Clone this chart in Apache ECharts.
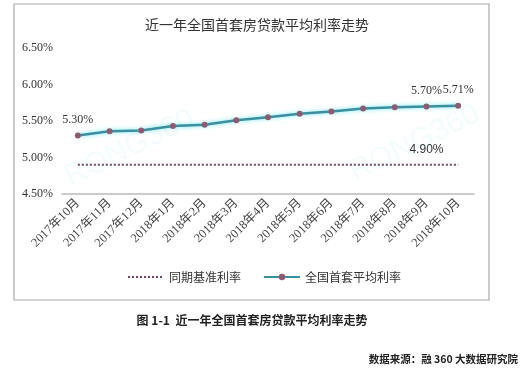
<!DOCTYPE html>
<html><head><meta charset="utf-8">
<script src="https://cdn.jsdelivr.net/npm/echarts@6/dist/echarts.min.js"></script>
<style>html,body{margin:0;padding:0;background:#fff}#c{width:529px;height:370px}</style>
</head><body><div id="c"></div>
<script>
var categories = ['2017年10月','2017年11月','2017年12月','2018年1月','2018年2月','2018年3月','2018年4月','2018年5月','2018年6月','2018年7月','2018年8月','2018年9月','2018年10月'];
var avgRate = [5.30,5.36,5.37,5.43,5.45,5.51,5.55,5.60,5.63,5.67,5.69,5.70,5.71];
var baseRate = [4.90,4.90,4.90,4.90,4.90,4.90,4.90,4.90,4.90,4.90,4.90,4.90,4.90];
var avgLabelIdx = [0,11,12];
var baseLabelIdx = [11];
var yTicks = [4.5,5.0,5.5,6.0,6.5];

var serif = '"Liberation Serif","DejaVu Serif","Noto Sans CJK SC",serif';
var cjk = '"Noto Sans CJK SC",sans-serif';

var chart = echarts.init(document.getElementById('c'));
chart.setOption({
  backgroundColor:'#fff',
  animation:false,
  title:{text:'近一年全国首套房贷款平均利率走势',left:252,top:13,textAlign:'center',
    textStyle:{fontFamily:cjk,fontSize:14,fontWeight:'normal',color:'#333'}},
  grid:{left:62,right:55,top:48,bottom:176},
  legend:{top:266,left:122,itemGap:22,itemWidth:36,itemHeight:8,
    textStyle:{fontFamily:cjk,fontSize:12,color:'#333'},
    data:[{name:'同期基准利率',itemStyle:{color:'rgba(0,0,0,0)',borderWidth:0}},'全国首套平均利率']},
  xAxis:{type:'category',data:categories,boundaryGap:true,
    axisLine:{lineStyle:{color:'#bbb',width:1.5}},axisTick:{show:false},
    axisLabel:{rotate:45,fontFamily:serif,fontSize:12.5,color:'#444',margin:7,interval:0}},
  yAxis:{type:'value',min:yTicks[0],max:yTicks[yTicks.length-1],interval:0.5,
    axisLine:{show:false},axisTick:{show:false},splitLine:{show:false},
    axisLabel:{fontFamily:serif,fontSize:12,color:'#333',margin:9,
      formatter:function(v){return v.toFixed(2)+'%';}}},
  series:[
    {name:'同期基准利率',type:'line',symbol:'none',data:baseRate,
      lineStyle:{type:'dotted',width:2,color:'#6a4868'},itemStyle:{color:'#6a4868'},
      markPoint:{symbol:'circle',symbolSize:2,itemStyle:{color:'rgba(0,0,0,0)'},
        label:{show:true,position:'top',distance:8,formatter:function(p){return p.value.toFixed(2)+'%';},
          fontFamily:'"Liberation Sans",sans-serif',fontSize:12,color:'#333'},
        data:baseLabelIdx.map(function(i){return {coord:[i,baseRate[i]],value:baseRate[i]};})}},
    {name:'全国首套平均利率',type:'line',data:avgRate.map(function(v,i){
        return avgLabelIdx.indexOf(i)>=0?{value:v,label:{show:true}}:v;}),
      symbol:'circle',symbolSize:6,
      lineStyle:{width:2.5,color:'#3b8f9e',shadowColor:'rgba(90,230,240,0.9)',shadowBlur:4},
      itemStyle:{color:'#8e5a70'},
      label:{show:false,position:'top',distance:7,formatter:function(p){return p.value.toFixed(2)+'%';},
        fontFamily:serif,fontSize:12,color:'#333'}}
  ],
  graphic:[
    {type:'rect',shape:{x:14,y:4,width:475,height:296},style:{fill:'none',stroke:'#aaa',lineWidth:1.2},z:-1},
    {type:'text',x:60,y:165,rotation:0.45,style:{text:'RONG360',fontSize:30,fontFamily:'"Liberation Sans",sans-serif',fill:'rgba(120,220,235,0.09)'},z:-1},
    {type:'text',x:345,y:160,rotation:0.45,style:{text:'RONG360',fontSize:30,fontFamily:'"Liberation Sans",sans-serif',fill:'rgba(120,220,235,0.09)'},z:-1},
    {type:'text',x:252,y:314,style:{text:'图 1-1  近一年全国首套房贷款平均利率走势',fontSize:12,fontWeight:'bold',fontFamily:cjk,fill:'#222',align:'center'}},
    {type:'text',x:518,y:354,style:{text:'数据来源：融 360 大数据研究院',fontSize:10.5,fontWeight:'bold',fontFamily:cjk,fill:'#222',align:'right'}}
  ]
});
</script></body></html>
